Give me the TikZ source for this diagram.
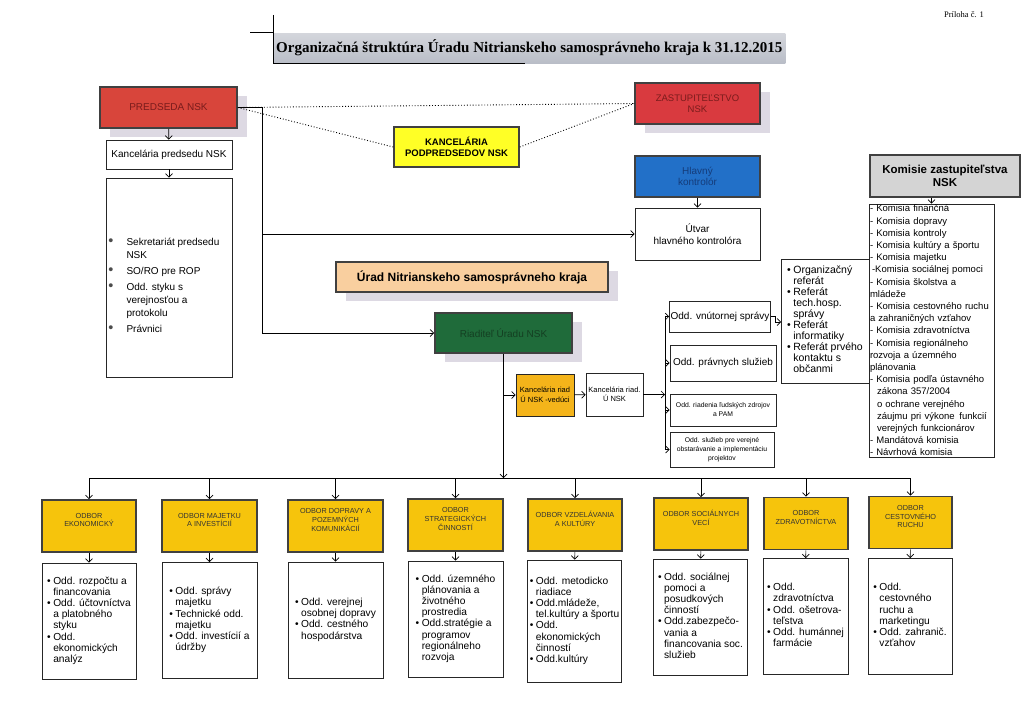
\documentclass[tikz,border=0pt]{standalone}
\usepackage{fontspec}
\setmainfont{Liberation Sans}
\newfontfamily\serifhead{Liberation Serif}
\usepackage{tikz}
\usetikzlibrary{arrows.meta,positioning,shadows}
\usepackage{xcolor}

\definecolor{predred}{HTML}{D8453B}
\definecolor{zastred}{HTML}{D93A3F}
\definecolor{tmavocervena}{HTML}{7A1C1C}
\definecolor{podyellow}{HTML}{FFFF26}
\definecolor{kontblue}{HTML}{2270C8}
\definecolor{navy}{HTML}{153C7A}
\definecolor{komgray}{HTML}{D4D4D4}
\definecolor{uradpeach}{HTML}{F9CF9F}
\definecolor{riadgreen}{HTML}{1F6B3A}
\definecolor{deepgreen}{HTML}{143F22}
\definecolor{vedorange}{HTML}{F4B41A}
\definecolor{odbgold}{HTML}{F6C40C}
\definecolor{tienc}{HTML}{DDD9E3}
\definecolor{nadpistop}{HTML}{D4D6DC}
\definecolor{nadpisbot}{HTML}{B9BDC7}

\newcommand{\odrazky}[1]{\begin{tabular}{@{}l@{\hspace{2.5pt}}l@{}}#1\end{tabular}}

\begin{document}
\begin{tikzpicture}[x=1pt,y=-1pt,
	sipka/.style={-{Straight Barb[length=3.5pt,width=7pt]},line width=0.7pt},
	ciara/.style={line width=0.7pt},
	bodky/.style={dotted,line width=0.9pt},
	farebny/.style={draw=black!75,line width=1.6pt},
	biely/.style={draw=black!85,line width=0.8pt,fill=white},
	tien/.style={drop shadow={shadow xshift=10pt,shadow yshift=-9pt,fill=tienc,opacity=1}},
	odbor/.style={farebny,fill=odbgold,minimum width=94pt,minimum height=52pt,text depth=12pt,font=\fontsize{7.3}{8.8}\selectfont,text=black!80},
	oddelenia/.style={biely,minimum width=94pt,minimum height=116pt,font=\fontsize{10.2}{11.2}\selectfont}]
	\useasboundingbox (0,0) rectangle (1024,724);

	\begin{scope}[every node/.style={align=center,inner sep=1pt,font=\fontsize{10}{11.5}\selectfont}]
		% nadpis
		\node[anchor=west,inner xsep=3pt,minimum height=30pt,top color=nadpistop,bottom color=nadpisbot,font=\serifhead\bfseries\fontsize{15}{17}\selectfont] (nadpis) at (273,48) {Organizačná štruktúra Úradu Nitrianskeho samosprávneho kraja k 31.12.2015};
		\node[font=\serifhead\fontsize{8.5}{10}\selectfont] (priloha) at (964,15) {Príloha č. 1};

		% predseda
		\node[farebny,fill=predred,tien,text=tmavocervena,minimum width=137pt,minimum height=41pt] (predseda) at (168.5,107.5) {PREDSEDA NSK};
		\node[biely,minimum width=126pt,minimum height=29pt] (kancpred) at (169,154.5) {Kancelária predsedu NSK};
		\node[biely,minimum width=126pt,minimum height=199pt,text height=70pt,font=\fontsize{10}{13}\selectfont] (sekretariat) at (169,277.5) {\begin{tabular}{@{}l@{\hspace{13pt}}p{103pt}@{}}
			\textcolor{black!70}{\Large\textbullet} & Sekretariát predsedu\\ & NSK\\[3pt]
			\textcolor{black!70}{\Large\textbullet} & SO/RO pre ROP\\[3pt]
			\textcolor{black!70}{\Large\textbullet} & Odd. styku s\\ & verejnosťou a\\ & protokolu\\[3pt]
			\textcolor{black!70}{\Large\textbullet} & Právnici
		\end{tabular}};

		% zastupitelstvo
		\node[farebny,fill=zastred,tien,text=tmavocervena,minimum width=125pt,minimum height=41pt,font=\fontsize{9.5}{11}\selectfont] (zastup) at (697.5,103.5) {ZASTUPITEĽSTVO\\NSK};
		\node[farebny,fill=podyellow,minimum width=125pt,minimum height=40pt,font=\bfseries\fontsize{9.5}{11}\selectfont] (kancpod) at (456.5,147) {KANCELÁRIA\\PODPREDSEDOV NSK};
		\node[farebny,fill=kontblue,text=navy,minimum width=125pt,minimum height=41pt] (kontrolor) at (697.5,176.5) {Hlavný\\kontrolór};
		\node[biely,minimum width=125pt,minimum height=52pt] (utvar) at (697.5,234) {Útvar\\hlavného kontrolóra};

		% komisie
		\node[farebny,fill=komgray,minimum width=150pt,minimum height=42pt,font=\bfseries\fontsize{11.5}{13}\selectfont] (komisie) at (945,176) {Komisie zastupiteľstva\\NSK};
		\node[biely,minimum width=125pt,minimum height=247pt,text width=123pt,align=left,font=\fontsize{9.5}{12.2}\selectfont] (komzoznam) at (931.5,330.5) {- Komisia finančná\\- Komisia dopravy\\- Komisia kontroly\\- Komisia kultúry a športu\\- Komisia majetku\\\hspace*{2pt}-Komisia sociálnej pomoci\\- Komisia školstva a\\mládeže\\- Komisia cestovného ruchu\\a zahraničných vzťahov\\- Komisia zdravotníctva\\- Komisia regionálneho\\rozvoja a územného\\plánovania\\- Komisia podľa ústavného\\\hspace*{7pt}zákona 357/2004\\\hspace*{7pt}o ochrane verejného\\\hspace*{7pt}záujmu pri výkone \,funkcií\\\hspace*{7pt}verejných funkcionárov\\- Mandátová komisia\\- Návrhová komisia};

		% urad a riaditel
		\node[farebny,fill=uradpeach,tien,minimum width=272pt,minimum height=30pt,font=\bfseries\fontsize{12}{14}\selectfont] (urad) at (472,277) {Úrad Nitrianskeho samosprávneho kraja};
		\node[farebny,fill=riadgreen,tien,text=deepgreen,minimum width=137pt,minimum height=40pt] (riaditel) at (503.5,333) {Riaditeľ Úradu NSK};
		\node[draw=black!85,line width=0.8pt,fill=vedorange,minimum width=58pt,minimum height=42pt,font=\fontsize{7.5}{9.5}\selectfont] (veduci) at (545,395) {Kancelária riad\\Ú NSK -vedúci};
		\node[biely,minimum width=57pt,minimum height=43pt,font=\fontsize{7.5}{9.5}\selectfont] (kancriad) at (614.5,394.5) {Kancelária riad.\\Ú NSK};

		% oddelenia uradu
		\node[biely,minimum width=100pt,minimum height=31pt] (vnutorna) at (720,316.5) {Odd. vnútornej správy};
		\node[biely,minimum width=106pt,minimum height=36pt] (pravne) at (723,363) {Odd. právnych služieb};
		\node[biely,minimum width=106pt,minimum height=32pt,font=\fontsize{6.8}{9}\selectfont] (ludske) at (723,410) {Odd. riadenia ľudských zdrojov\\a PAM};
		\node[biely,minimum width=104pt,minimum height=35pt,font=\fontsize{6.8}{9}\selectfont] (sluzby) at (722,449.5) {Odd. služieb pre verejné\\obstarávanie a implementáciu\\projektov};
		\node[biely,minimum width=88pt,minimum height=124pt,font=\fontsize{10.5}{11}\selectfont] (referaty) at (825,321) {\odrazky{
			\textbullet & Organizačný\\ & referát\\
			\textbullet & Referát\\ & tech.hosp.\\ & správy\\
			\textbullet & Referát\\ & informatiky\\
			\textbullet & Referát prvého\\ & kontaktu s\\ & občanmi}};

		% odbory
		\node[odbor] (odb1) at (89,526) {ODBOR\\EKONOMICKÝ};
		\node[odbor,minimum width=95pt] (odb2) at (209.5,526) {ODBOR MAJETKU\\A INVESTÍCIÍ};
		\node[odbor,minimum width=95pt] (odb3) at (335.5,526) {ODBOR DOPRAVY A\\POZEMNÝCH\\KOMUNIKÁCIÍ};
		\node[odbor,minimum width=95pt] (odb4) at (455.5,525) {ODBOR\\STRATEGICKÝCH\\ČINNOSTÍ};
		\node[odbor] (odb5) at (575,525) {ODBOR VZDELÁVANIA\\A KULTÚRY};
		\node[odbor] (odb6) at (701,524) {ODBOR SOCIÁLNYCH\\VECÍ};
		\node[odbor,minimum width=84pt] (odb7) at (806,523.5) {ODBOR\\ZDRAVOTNÍCTVA};
		\node[odbor,minimum width=83pt] (odb8) at (910.5,522.5) {ODBOR\\CESTOVNÉHO\\RUCHU};

		\node[oddelenia] (odd1) at (89,621) {\odrazky{
			\textbullet & Odd. rozpočtu a\\ & financovania\\
			\textbullet & Odd. účtovníctva\\ & a platobného\\ & styku\\
			\textbullet & Odd.\\ & ekonomických\\ & analýz}};
		\node[oddelenia,minimum width=95pt] (odd2) at (209.5,620.5) {\odrazky{
			\textbullet & Odd. správy\\ & majetku\\
			\textbullet & Technické odd.\\ & majetku\\
			\textbullet & Odd. investícií a\\ & údržby}};
		\node[oddelenia,minimum width=95pt] (odd3) at (335.5,620) {\odrazky{
			\textbullet & Odd. verejnej\\ & osobnej dopravy\\
			\textbullet & Odd. cestného\\ & hospodárstva}};
		\node[oddelenia,minimum width=95pt] (odd4) at (455.5,619) {\odrazky{
			\textbullet & Odd. územného\\ & plánovania a\\ & životného\\ & prostredia\\
			\textbullet & Odd.stratégie a\\ & programov\\ & regionálneho\\ & rozvoja}};
		\node[oddelenia,minimum height=122pt] (odd5) at (574.5,621) {\odrazky{
			\textbullet & Odd. metodicko\\ & riadiace\\
			\textbullet & Odd.mládeže,\\ & tel.kultúry a športu\\
			\textbullet & Odd.\\ & ekonomických\\ & činností\\
			\textbullet & Odd.kultúry}};
		\node[oddelenia] (odd6) at (700.5,617) {\odrazky{
			\textbullet & Odd. sociálnej\\ & pomoci a\\ & posudkových\\ & činností\\
			\textbullet & Odd.zabezpečo-\\ & vania a\\ & financovania soc.\\ & služieb}};
		\node[oddelenia,minimum width=85pt] (odd7) at (805.5,616.5) {\odrazky{
			\textbullet & Odd.\\ & zdravotníctva\\
			\textbullet & Odd. ošetrova-\\ & teľstva\\
			\textbullet & Odd. humánnej\\ & farmácie}};
		\node[oddelenia,minimum width=84pt] (odd8) at (910,616.5) {\odrazky{
			\textbullet & Odd.\\ & cestovného\\ & ruchu a\\ & marketingu\\
			\textbullet & Odd. zahranič.\\ & vzťahov}};
	\end{scope}

	% pomocne body
	\coordinate (kmen) at (262,107.5);
	\coordinate (zbernica) at (503,478);
	\coordinate (oddzbernica) at (665,316.5);
	\coordinate (doreferatov) at (781,322);

	% nadpis ciary
	\draw[ciara] (nadpis.north west) ++(0,-18) -- (nadpis.south west);
	\draw[ciara] (nadpis.north west) -- ++(-23,0);
	\draw[line width=1pt] (nadpis.south west) -- ++(252,0);

	\begin{scope}[every edge/.style={draw}]
		% bodkovane vazby
		\draw[bodky] (predseda.east) -- (zastup.west);
		\draw[bodky] (predseda.east) -- (kancpod.west);
		\draw[bodky] (kancpod.east) -- (zastup.west);

		\draw[sipka] (predseda.east) -- (kmen) |- (riaditel.west);
		\draw[sipka] (kmen |- utvar.west) -- (utvar.west);
		\draw[sipka] (predseda) -- (kancpred);
		\draw[sipka] (kancpred) -- (sekretariat);
		\draw[sipka] (kontrolor) -- (utvar);
		\draw[sipka] (komisie.south -| komzoznam.north) -- (komzoznam.north);

		% riaditel
		\draw[sipka] (riaditel) -- (riaditel |- zbernica);
		\draw[sipka] (riaditel.south |- veduci) -- (veduci);
		\draw[sipka] (veduci) -- (kancriad);
		\draw[ciara] (oddzbernica) -- (oddzbernica |- sluzby);
		\draw[sipka] (kancriad) -- (kancriad -| oddzbernica);
		\draw[sipka] (oddzbernica |- vnutorna) -- (vnutorna);
		\draw[sipka] (oddzbernica |- pravne) -- (pravne);
		\draw[sipka] (oddzbernica |- ludske) -- (ludske);
		\draw[sipka] (oddzbernica |- sluzby) -- (sluzby);
		\draw[sipka] (vnutorna.east) -- ++(5,0) |- (doreferatov);

		% odbory
		\draw[ciara] (odb1 |- zbernica) -- (odb8 |- zbernica);
		\draw[sipka] (odb1 |- zbernica) -- (odb1);
		\draw[sipka] (odb2 |- zbernica) -- (odb2);
		\draw[sipka] (odb3 |- zbernica) -- (odb3);
		\draw[sipka] (odb4 |- zbernica) -- (odb4);
		\draw[sipka] (odb5 |- zbernica) -- (odb5);
		\draw[sipka] (odb6 |- zbernica) -- (odb6);
		\draw[sipka] (odb7 |- zbernica) -- (odb7);
		\draw[sipka] (odb8 |- zbernica) -- (odb8);
		\draw[sipka] (odb1) -- (odd1);
		\draw[sipka] (odb2) -- (odd2);
		\draw[sipka] (odb3) -- (odd3);
		\draw[sipka] (odb4) -- (odd4);
		\draw[sipka] (odb5) -- (odd5);
		\draw[sipka] (odb6) -- (odd6);
		\draw[sipka] (odb7) -- (odd7);
		\draw[sipka] (odb8) -- (odd8);
	\end{scope}
\end{tikzpicture}
\end{document}
